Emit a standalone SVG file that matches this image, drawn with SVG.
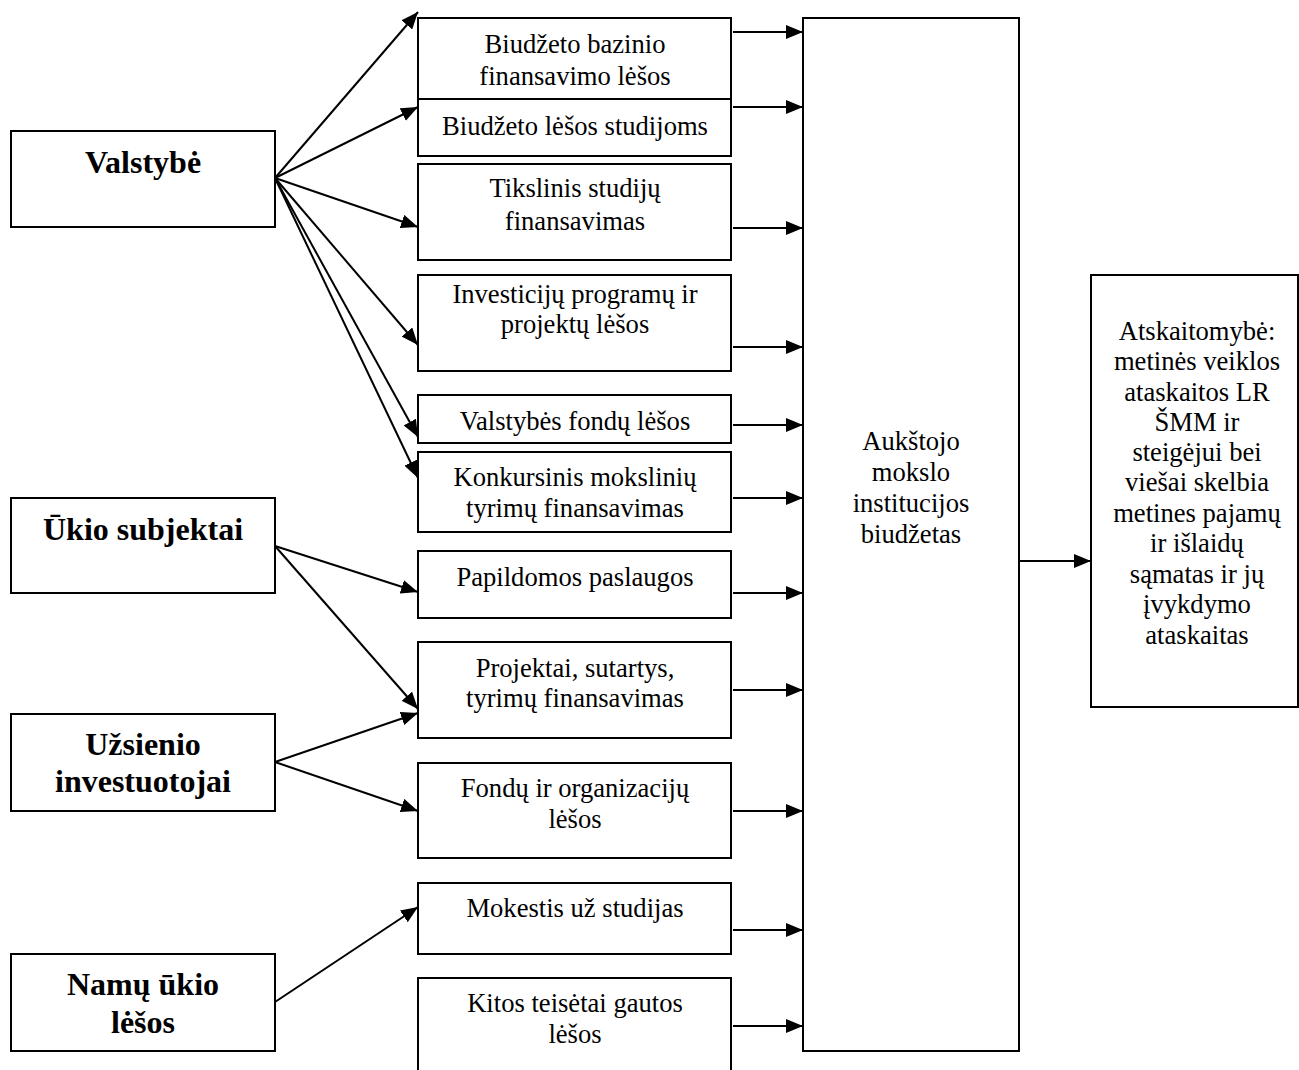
<svg xmlns="http://www.w3.org/2000/svg" width="1299" height="1070" viewBox="0 0 1299 1070">
<style>
rect{fill:#fff;stroke:#000;stroke-width:2}
.c line{stroke:#000;stroke-width:2;marker-end:url(#ah)}
text{font-family:"Liberation Serif","Times New Roman",serif;text-anchor:middle;fill:#000}
.s{font-size:32px;font-weight:bold}
.m{font-size:26.6px}
</style>
<defs>
<marker id="ah" markerUnits="userSpaceOnUse" markerWidth="18" markerHeight="14" refX="17" refY="7" orient="auto">
<path d="M0,0 L17,7 L0,14 Z" fill="#000"/>
</marker>
</defs>
<g id="valstybe"><rect x="11" y="131" width="264" height="96"/><text class="s" x="143" y="173">Valstybė</text></g>
<g id="ukio"><rect x="11" y="498" width="264" height="95"/><text class="s" x="143" y="540">Ūkio subjektai</text></g>
<g id="uzsienio"><rect x="11" y="714" width="264" height="97"/><text class="s" x="143" y="755">Užsienio</text><text class="s" x="143" y="792">investuotojai</text></g>
<g id="namu"><rect x="11" y="954" width="264" height="97"/><text class="s" x="143" y="995">Namų ūkio</text><text class="s" x="143" y="1033">lėšos</text></g>

<g id="b1"><rect x="418" y="18" width="313" height="81"/><text class="m" x="575" y="53">Biudžeto bazinio</text><text class="m" x="575" y="85">finansavimo lėšos</text></g>
<g id="b2"><rect x="418" y="99" width="313" height="57"/><text class="m" x="575" y="135">Biudžeto lėšos studijoms</text></g>
<g id="b3"><rect x="418" y="164" width="313" height="96"/><text class="m" x="575" y="197">Tikslinis studijų</text><text class="m" x="575" y="230">finansavimas</text></g>
<g id="b4"><rect x="418" y="275" width="313" height="96"/><text class="m" x="575" y="303">Investicijų programų ir</text><text class="m" x="575" y="333">projektų lėšos</text></g>
<g id="b5"><rect x="418" y="395" width="313" height="48"/><text class="m" x="575" y="430">Valstybės fondų lėšos</text></g>
<g id="b6"><rect x="418" y="452" width="313" height="80"/><text class="m" x="575" y="486">Konkursinis mokslinių</text><text class="m" x="575" y="517">tyrimų finansavimas</text></g>
<g id="b7"><rect x="418" y="551" width="313" height="67"/><text class="m" x="575" y="586">Papildomos paslaugos</text></g>
<g id="b8"><rect x="418" y="642" width="313" height="96"/><text class="m" x="575" y="677">Projektai, sutartys,</text><text class="m" x="575" y="707">tyrimų finansavimas</text></g>
<g id="b9"><rect x="418" y="763" width="313" height="95"/><text class="m" x="575" y="797">Fondų ir organizacijų</text><text class="m" x="575" y="828">lėšos</text></g>
<g id="b10"><rect x="418" y="883" width="313" height="71"/><text class="m" x="575" y="917">Mokestis už studijas</text></g>
<g id="b11"><rect x="418" y="978" width="313" height="100"/><text class="m" x="575" y="1012">Kitos teisėtai gautos</text><text class="m" x="575" y="1043">lėšos</text></g>

<g id="budget"><rect x="803" y="18" width="216" height="1033"/><text class="m" x="911" y="450">Aukštojo</text><text class="m" x="911" y="481">mokslo</text><text class="m" x="911" y="512">institucijos</text><text class="m" x="911" y="543">biudžetas</text></g>

<g id="report"><rect x="1091" y="275" width="207" height="432"/>
<text class="m" x="1197" y="340">Atskaitomybė:</text>
<text class="m" x="1197" y="370">metinės veiklos</text>
<text class="m" x="1197" y="401">ataskaitos LR</text>
<text class="m" x="1197" y="431">ŠMM ir</text>
<text class="m" x="1197" y="461">steigėjui bei</text>
<text class="m" x="1197" y="491">viešai skelbia</text>
<text class="m" x="1197" y="522">metines pajamų</text>
<text class="m" x="1197" y="552">ir išlaidų</text>
<text class="m" x="1197" y="583">sąmatas ir jų</text>
<text class="m" x="1197" y="613">įvykdymo</text>
<text class="m" x="1197" y="644">ataskaitas</text>
</g>

<g class="c" id="connectors">
<line x1="275" y1="178" x2="418" y2="12"/>
<line x1="275" y1="178" x2="418" y2="107"/>
<line x1="275" y1="178" x2="418" y2="227"/>
<line x1="275" y1="178" x2="418" y2="345"/>
<line x1="275" y1="178" x2="418" y2="437"/>
<line x1="275" y1="178" x2="418" y2="478"/>
<line x1="275" y1="546" x2="418" y2="592"/>
<line x1="275" y1="546" x2="418" y2="709"/>
<line x1="275" y1="762" x2="418" y2="713"/>
<line x1="275" y1="762" x2="418" y2="811"/>
<line x1="275" y1="1002" x2="418" y2="907"/>
<line x1="733" y1="32" x2="803" y2="32"/>
<line x1="733" y1="107" x2="803" y2="107"/>
<line x1="733" y1="228" x2="803" y2="228"/>
<line x1="733" y1="347" x2="803" y2="347"/>
<line x1="733" y1="425" x2="803" y2="425"/>
<line x1="733" y1="498" x2="803" y2="498"/>
<line x1="733" y1="593" x2="803" y2="593"/>
<line x1="733" y1="690" x2="803" y2="690"/>
<line x1="733" y1="811" x2="803" y2="811"/>
<line x1="733" y1="930" x2="803" y2="930"/>
<line x1="733" y1="1026" x2="803" y2="1026"/>
<line x1="1019" y1="561" x2="1091" y2="561"/>
</g>
</svg>
